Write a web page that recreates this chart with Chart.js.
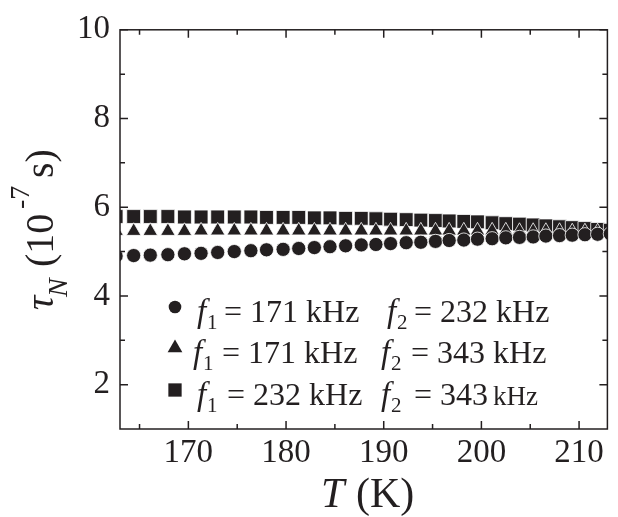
<!DOCTYPE html>
<html><head><meta charset="utf-8">
<script src="https://cdn.jsdelivr.net/npm/chart.js@4.4.1/dist/chart.umd.min.js"></script>
<style>html,body{margin:0;padding:0;background:#fff}canvas{display:block}</style>
</head><body>
<canvas id="c" width="618" height="517"></canvas>
<script>
// ---- data ----
const temperatureK = [162.6,164.4,166.1,167.9,169.6,171.3,173.0,174.7,176.4,178.0,179.7,181.3,182.9,184.5,186.1,187.7,189.2,190.7,192.3,193.8,195.3,196.7,198.2,199.6,201.1,202.5,203.9,205.3,206.6,208.0,209.3,210.6,211.9,213.2];
const tauF171F232 = [4.90,4.91,4.92,4.93,4.95,4.96,4.98,5.00,5.02,5.04,5.05,5.07,5.09,5.11,5.13,5.15,5.16,5.18,5.20,5.21,5.23,5.25,5.26,5.28,5.29,5.31,5.32,5.33,5.35,5.36,5.37,5.38,5.39,5.40];
const tauF171F343 = [5.46,5.46,5.46,5.46,5.46,5.47,5.47,5.47,5.47,5.47,5.47,5.47,5.47,5.47,5.47,5.47,5.47,5.47,5.47,5.47,5.47,5.47,5.47,5.47,5.47,5.47,5.46,5.46,5.46,5.46,5.45,5.45,5.45,5.45];
const tauF232F343 = [5.79,5.79,5.79,5.79,5.78,5.78,5.78,5.78,5.78,5.77,5.77,5.77,5.76,5.76,5.75,5.75,5.74,5.73,5.72,5.71,5.70,5.69,5.68,5.67,5.65,5.63,5.62,5.60,5.58,5.56,5.54,5.52,5.50,5.48];
const xMajorTicks = [170,180,190,200,210];
const xMinorTicks = [165,175,185,195,205];
const yMajorTicks = [2,4,6,8,10];
const yMinorTicks = [3,5,7,9];
const legendF1 = ['171','171','232'];
const legendF2 = ['232','343','343'];

const INK = '#231f20';
const SERIF = '"Liberation Serif","Times New Roman",serif';

function pts(arr){ return temperatureK.map((t,i)=>({x:t,y:arr[i]})); }

function marker(ctx, style, x, y, r){
  ctx.save();
  ctx.fillStyle = INK;
  ctx.beginPath();
  if (style==='circle'){ ctx.arc(x,y,r,0,Math.PI*2); }
  else if (style==='triangle'){
    ctx.moveTo(x, y-r); ctx.lineTo(x+r*0.866, y+r/2); ctx.lineTo(x-r*0.866, y+r/2); ctx.closePath();
  } else { const s=r*Math.SQRT1_2; ctx.rect(x-s,y-s,2*s,2*s); }
  ctx.fill();
  ctx.restore();
}

const decor = {
  id:'decor',
  afterDraw(chart){
    const {ctx, chartArea:a, scales:{x, y}} = chart;
    ctx.save();
    ctx.strokeStyle = INK; ctx.lineWidth = 1.5;
    ctx.strokeRect(a.left, a.top, a.right-a.left, a.bottom-a.top);
    ctx.beginPath();
    const tx=(v,len)=>{const p=x.getPixelForValue(v); ctx.moveTo(p,a.bottom); ctx.lineTo(p,a.bottom-len); ctx.moveTo(p,a.top); ctx.lineTo(p,a.top+len);};
    const ty=(v,len)=>{const p=y.getPixelForValue(v); ctx.moveTo(a.left,p); ctx.lineTo(a.left+len,p); ctx.moveTo(a.right,p); ctx.lineTo(a.right-len,p);};
    xMajorTicks.forEach(v=>tx(v,8)); xMinorTicks.forEach(v=>tx(v,5));
    yMajorTicks.forEach(v=>ty(v,8)); yMinorTicks.forEach(v=>ty(v,5));
    ctx.stroke();

    ctx.fillStyle = INK; ctx.textBaseline='alphabetic'; ctx.textAlign='left';
    // x title
    ctx.font = 'italic 42px '+SERIF; ctx.fillText('T', 321, 507);
    ctx.font = '42px '+SERIF; ctx.fillText('(K)', 356, 507);
    // y title (rotated)
    ctx.save();
    ctx.translate(53, 310); ctx.rotate(-Math.PI/2);
    ctx.font = 'italic 40px '+SERIF; ctx.fillText('τ', 0, 0);
    ctx.font = 'italic 28px '+SERIF; ctx.fillText('N', 13, 14);
    ctx.font = '40px '+SERIF; ctx.fillText('(10', 43, 0);
    ctx.font = '28px '+SERIF; ctx.fillText('-7', 101, -24);
    ctx.font = '40px '+SERIF; ctx.fillText('s)', 132, 0);
    ctx.restore();

    // legend
    const rows = [
      {style:'circle', r:6.3, cy:307, base:322, fx:197, ex:224, f2x:387, e2x:414},
      {style:'triangle', r:8.5, cy:348, base:363, fx:193, ex:222, f2x:381, e2x:411},
      {style:'rect', r:9.4, cy:390, base:405, fx:197, ex:227, f2x:381, e2x:414}
    ];
    rows.forEach((rw,i)=>{
      marker(ctx, rw.style, 175, rw.cy, rw.r);
      ctx.font = 'italic 33px '+SERIF; ctx.fillText('f', rw.fx, rw.base);
      ctx.font = '21px '+SERIF; ctx.fillText('1', rw.fx+10, rw.base+7);
      ctx.font = '32px '+SERIF; ctx.fillText('= '+legendF1[i]+' kHz', rw.ex, rw.base);
      ctx.font = 'italic 33px '+SERIF; ctx.fillText('f', rw.f2x, rw.base);
      ctx.font = '21px '+SERIF; ctx.fillText('2', rw.f2x+10, rw.base+7);
      if (i===2){
        ctx.font = '32px '+SERIF; ctx.fillText('= '+legendF2[i], rw.e2x, rw.base);
        ctx.font = '27px '+SERIF; ctx.fillText('kHz', 493, rw.base);
      } else {
        ctx.font = '32px '+SERIF; ctx.fillText('= '+legendF2[i]+' kHz', rw.e2x, rw.base);
      }
    });
    ctx.restore();
  }
};

const common = {showLine:false, backgroundColor:INK, borderColor:'#ffffff', borderWidth:0.8, clip:0};
new Chart(document.getElementById('c'), {
  type:'scatter',
  data:{datasets:[
    Object.assign({label:'f1 = 171 kHz  f2 = 232 kHz', data:pts(tauF171F232), pointStyle:'circle', pointRadius:7.1, order:1}, common),
    Object.assign({label:'f1 = 171 kHz  f2 = 343 kHz', data:pts(tauF171F343), pointStyle:'triangle', pointRadius:8.4, order:2}, common),
    Object.assign({label:'f1 = 232 kHz  f2 = 343 kHz', data:pts(tauF232F343), pointStyle:'rect', pointRadius:9.8, order:3}, common)
  ]},
  options:{
    responsive:false, animation:false, devicePixelRatio:1,
    layout:{padding:{top:28, right:1, left:0, bottom:0}},
    plugins:{legend:{display:false}, tooltip:{enabled:false}},
    scales:{
      x:{type:'linear', min:163, max:212.9,
        afterBuildTicks:s=>{s.ticks = xMajorTicks.map(v=>({value:v}));},
        afterFit:s=>{s.height = 88;},
        grid:{display:false, drawTicks:false}, border:{display:false},
        ticks:{color:INK, font:{family:SERIF, size:33}, padding:5, maxRotation:0, autoSkip:false}},
      y:{type:'linear', min:1, max:10,
        afterBuildTicks:s=>{s.ticks = yMajorTicks.map(v=>({value:v}));},
        afterFit:s=>{s.width = 120;},
        grid:{display:false, drawTicks:false}, border:{display:false},
        ticks:{color:INK, font:{family:SERIF, size:33}, padding:10, autoSkip:false}}
    }
  },
  plugins:[decor]
});
</script>
</body></html>
